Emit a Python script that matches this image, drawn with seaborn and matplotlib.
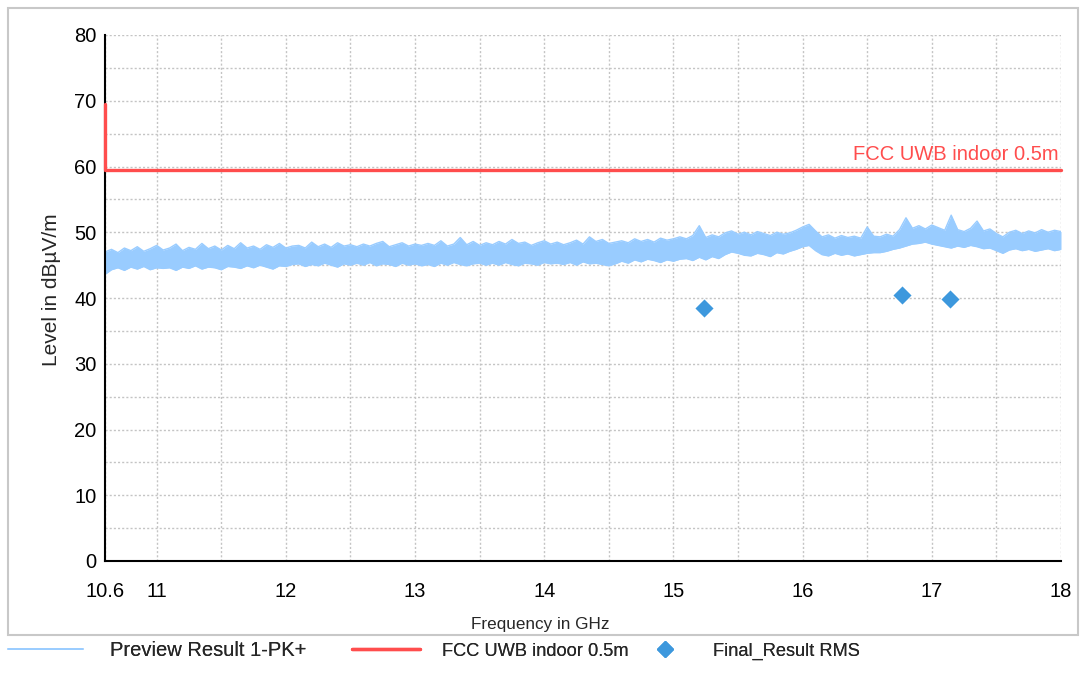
import numpy as np
import pandas as pd
import matplotlib
matplotlib.use("Agg")
import matplotlib.pyplot as plt
from matplotlib.lines import Line2D
from matplotlib.patches import Rectangle
from matplotlib import font_manager
import seaborn as sns

# ---------------- data ----------------
freq_start, freq_stop, freq_step = 10.6, 18.0, 0.05   # GHz grid of the read-off envelope
trace_upper = [
    47.0, 47.4, 46.9, 47.6, 47.2, 47.8, 47.1, 47.5, 48.0, 47.3,
    47.6, 48.2, 47.2, 47.7, 47.4, 48.3, 47.5, 47.9, 47.3, 48.0,
    47.5, 48.4, 47.6, 47.9, 47.4, 48.1, 47.7, 48.3, 47.6, 47.9,
    48.0, 47.6, 48.5, 47.8, 48.2, 47.7, 48.4, 47.9, 48.1, 47.8,
    48.2, 47.9, 48.3, 48.6, 47.8, 48.1, 48.4, 47.9, 48.2, 48.0,
    48.3, 48.0, 48.7, 47.9, 48.2, 49.2, 48.1, 48.6, 48.0, 48.4,
    48.1, 48.6, 48.2, 48.9, 48.3, 48.5, 48.0, 48.4, 48.7, 48.2,
    48.5, 48.1, 48.4, 48.8, 48.2, 49.3, 48.6, 48.9, 48.3, 48.5,
    48.7, 48.4, 49.0, 48.6, 48.9, 48.5, 49.1, 48.8, 49.0, 49.3,
    49.0, 49.5, 51.0, 49.2, 49.6, 49.3, 49.9, 50.2, 49.7, 50.0,
    49.6, 50.1, 49.8, 49.5, 50.0, 49.7, 49.9, 50.3, 50.8, 51.2,
    50.2, 49.3, 49.6, 49.1, 49.5, 49.2, 49.4, 49.1, 50.8, 49.4,
    49.3, 49.7, 49.4, 50.4, 52.2, 50.6, 51.0, 50.5, 51.1, 50.7,
    50.3, 52.6, 50.4, 50.1, 50.6, 51.7, 50.2, 50.5, 49.8, 49.3,
    50.0, 50.3, 49.8, 50.2, 49.9, 50.4, 50.0, 50.3, 50.1,
]
trace_lower = [
    43.6, 44.3, 44.6, 44.2, 44.7, 44.4, 44.8, 44.3, 44.6, 44.5,
    44.6, 44.2, 44.7, 44.5, 44.9, 44.4, 44.7, 44.6, 44.3, 44.8,
    44.7, 44.5, 44.9, 44.6, 45.0, 44.7, 44.4, 44.9, 44.8, 45.1,
    45.2, 44.8, 45.1, 44.9, 45.3, 45.0, 44.7, 45.2, 45.0, 45.3,
    45.0, 45.4, 44.9, 45.2, 45.1, 44.8, 45.3, 45.0, 45.2, 44.9,
    45.1, 44.8, 45.3, 45.0, 45.4, 45.1, 44.9, 45.2, 45.3, 45.0,
    45.3, 45.0, 45.4, 45.1, 44.9, 45.3, 45.2, 45.0, 45.4, 45.2,
    45.3, 45.1, 45.4, 45.0, 45.5, 45.2, 45.3, 45.1, 44.9, 45.2,
    45.6, 45.3, 45.8, 45.5, 45.9, 45.7, 45.4, 45.8, 45.6, 45.9,
    46.0, 45.7, 46.2, 45.8, 46.3, 46.0, 46.6, 47.0, 46.8, 46.5,
    46.4, 46.8, 46.6, 46.3, 46.9, 46.7, 47.1, 47.4, 47.8, 48.0,
    47.2, 46.6, 46.4, 46.8, 46.5, 46.7, 46.4, 46.6, 46.8, 46.9,
    46.9, 47.1, 47.4, 47.6, 47.9, 48.2, 48.3, 48.5, 48.2, 48.0,
    47.8, 47.6, 47.9, 47.7, 48.0, 47.8, 47.5, 47.6, 47.2, 46.8,
    47.3, 47.5, 47.2, 47.4, 47.1, 47.3, 47.5, 47.2, 47.4,
]
limit_freq = [10.6, 10.6, 18.0]
limit_level = [69.5, 59.5, 59.5]
final_freq = [15.24, 16.77, 17.14]
final_level = [38.5, 40.4, 39.8]

x_ticks = [10.6, 11, 11.5, 12, 12.5, 13, 13.5, 14, 14.5, 15, 15.5, 16, 16.5, 17, 17.5, 18]
x_ticklabels = ["10.6", "11", "", "12", "", "13", "", "14", "", "15", "", "16", "", "17", "", "18"]
y_ticks = [0, 10, 20, 30, 40, 50, 60, 70, 80]
y_minor = [5, 15, 25, 35, 45, 55, 65, 75]

series_names = ["Preview Result 1-PK+", "FCC UWB indoor 0.5m", "Final_Result RMS"]
limit_label = "FCC UWB indoor 0.5m"
x_label = "Frequency in GHz"
y_label = "Level in dBµV/m"

# ---------------- style ----------------
c_trace = "#99CCFF"
c_limit = "#FF4D4D"
c_final = "#3D98DD"

sns.set_theme(style="white")
plt.rcParams["font.family"] = ["Liberation Sans", "DejaVu Sans"]
installed = {f.name for f in font_manager.fontManager.ttflist}
narrow = (["Liberation Sans Narrow"] if "Liberation Sans Narrow" in installed else []) + \
    ["Liberation Sans", "DejaVu Sans"]
narrow_scale = 1.0 if "Liberation Sans Narrow" in installed else 0.82

W, H = 1086, 693
freq = np.round(np.arange(len(trace_upper)) * freq_step + freq_start, 3)
df_trace = pd.DataFrame({"freq": freq, "upper": trace_upper, "lower": trace_lower})
df_limit = pd.DataFrame({"freq": limit_freq, "level": limit_level})
df_final = pd.DataFrame({"freq": final_freq, "level": final_level})

fig = plt.figure(figsize=(W / 100, H / 100), dpi=100)
ax = fig.add_axes([105 / W, 1 - 561 / H, (1061 - 105) / W, (561 - 35) / H])

# frame around chart area
fig.add_artist(Rectangle((8 / W, 1 - 635 / H), (1078 - 8) / W, (635 - 8) / H,
                         transform=fig.transFigure, fill=False, edgecolor="#C8C8C8",
                         linewidth=1.5, zorder=0))

# preview trace (band between envelopes)
ax.fill_between(df_trace["freq"], df_trace["lower"], df_trace["upper"],
                color=c_trace, linewidth=0, zorder=2)
sns.lineplot(data=df_trace, x="freq", y="upper", ax=ax, color=c_trace, linewidth=1.0,
             estimator=None, zorder=2)
sns.lineplot(data=df_trace, x="freq", y="lower", ax=ax, color=c_trace, linewidth=1.0,
             estimator=None, zorder=2)

# limit line (drawn above the left spine)
sns.lineplot(data=df_limit, x="freq", y="level", ax=ax, color=c_limit, linewidth=2.4,
             sort=False, estimator=None, zorder=5, clip_on=False)
ax.text(17.98, 59.5 + 0.9, limit_label, color=c_limit, fontsize=14.5, ha="right", va="bottom")

# final result markers
sns.scatterplot(data=df_final, x="freq", y="level", ax=ax, marker="D", s=85,
                color=c_final, edgecolor=c_final, linewidth=0, zorder=4)

# axes
ax.set_xlim(10.6, 18.0)
ax.set_ylim(0, 80)
ax.set_xticks(x_ticks)
ax.set_xticklabels(x_ticklabels)
ax.set_yticks(y_ticks)
ax.set_yticks(y_minor, minor=True)
ax.tick_params(axis="both", which="both", direction="inout", length=8, width=1.3,
               color="black", labelsize=14.5, labelcolor="black")
ax.tick_params(axis="x", which="major", pad=11)
ax.tick_params(axis="y", which="major", pad=2)
ax.grid(True, which="both", color="#C4C4C4", linestyle=(0, (1.5, 1.5)), linewidth=1.0, zorder=0)
ax.set_axisbelow(True)
for s in ["top", "right"]:
    ax.spines[s].set_visible(False)
for s in ["left", "bottom"]:
    ax.spines[s].set_color("black")
    ax.spines[s].set_linewidth(1.5)
ax.set_xlabel("")
ax.set_ylabel("")

fig.text(540 / W, 1 - 625 / H, x_label, fontsize=15 * narrow_scale, family=narrow,
         ha="center", va="center")
fig.text(52 / W, 1 - 290 / H, y_label, fontsize=15, ha="center", va="center", rotation=90)

# legend below the frame: three entries placed like the reference
legend_specs = [
    (Line2D([], [], color=c_trace, linewidth=1.2), series_names[0], 8, 75, 110,
     14.5, ["Liberation Sans", "DejaVu Sans"]),
    (Line2D([], [], color=c_limit, linewidth=2.4), series_names[1], 352, 68, 442,
     16 * narrow_scale, narrow),
    (Line2D([], [], color=c_final, marker="D", linestyle="none", markersize=8),
     series_names[2], 650, 30, 713, 16 * narrow_scale, narrow),
]
for handle, name, x0, hlen, xtext, fs, fam in legend_specs:
    px_em = fs * 100 / 72
    leg = fig.legend([handle], [name], loc="center left", bbox_to_anchor=(x0 / W, 1 - 651 / H),
                     frameon=False, prop={"size": fs, "family": fam},
                     handlelength=hlen / px_em, handletextpad=(xtext - x0 - hlen) / px_em,
                     borderpad=0, borderaxespad=0)
    fig.add_artist(leg)

fig.savefig("out.png", dpi=100)
